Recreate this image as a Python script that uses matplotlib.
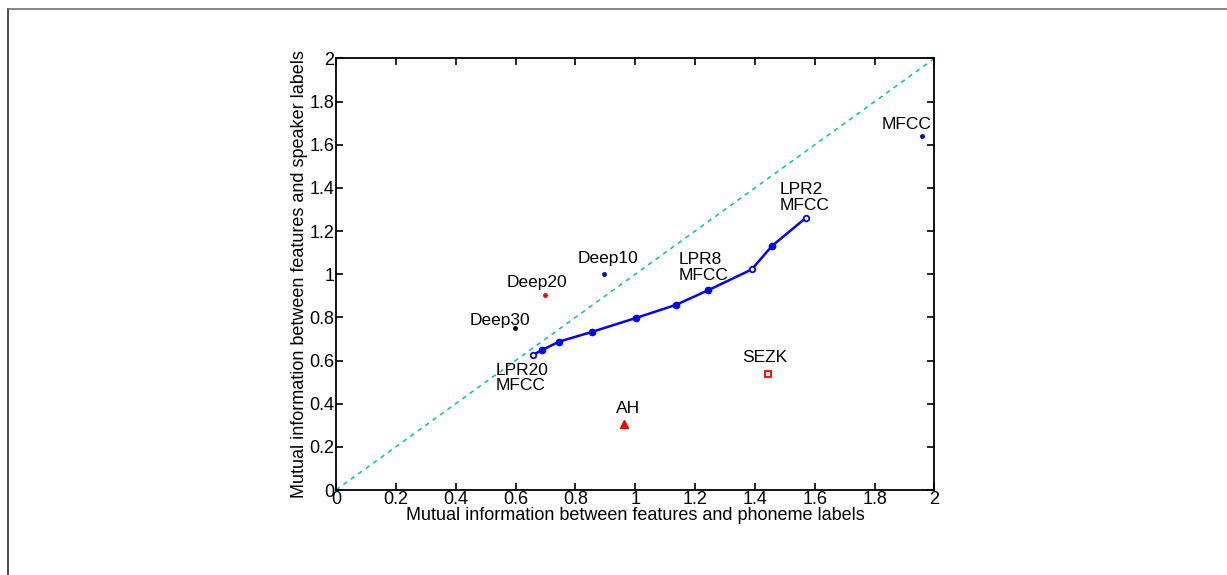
import numpy as np
import matplotlib
matplotlib.use('Agg')
import matplotlib.pyplot as plt
from matplotlib.lines import Line2D

plt.rcParams['font.family'] = ['Liberation Sans', 'DejaVu Sans']

# LPR + MFCC curve
lpr_x = [0.657, 0.688, 0.744, 0.856, 1.004, 1.136, 1.244, 1.389, 1.457, 1.571]
lpr_y = [0.625, 0.648, 0.687, 0.733, 0.798, 0.858, 0.926, 1.022, 1.131, 1.262]
lpr_hollow = [0, 7, 9]  # LPR20, LPR8, LPR2

# single feature sets
deep_names = ['Deep10', 'Deep20', 'Deep30']
deep_x = [0.897, 0.697, 0.598]
deep_y = [1.003, 0.903, 0.753]
deep_colors = ['blue', 'red', 'black']

mfcc_x, mfcc_y = 1.958, 1.640
sezk_x, sezk_y = 1.444, 0.536
ah_x, ah_y = 0.961, 0.304

ticks = [0, 0.2, 0.4, 0.6, 0.8, 1, 1.2, 1.4, 1.6, 1.8, 2]
tick_labels = ['0', '0.2', '0.4', '0.6', '0.8', '1', '1.2', '1.4', '1.6', '1.8', '2']

fig = plt.figure(figsize=(12.27, 5.75), dpi=100)
ax = fig.add_axes([0.2738, 0.1478, 0.7616 - 0.2738, 0.8983 - 0.1478])

# diagonal reference
ax.plot([0, 2], [0, 2], '--', color='#00BFBF', lw=1.1, dashes=(3, 3))

ax.plot(lpr_x, lpr_y, '-', color='blue', lw=1.8)
filled = [i for i in range(len(lpr_x)) if i not in lpr_hollow]
ax.plot([lpr_x[i] for i in filled], [lpr_y[i] for i in filled], 'o',
        color='blue', ms=4.5, ls='none')
ax.plot([lpr_x[i] for i in lpr_hollow], [lpr_y[i] for i in lpr_hollow], 'o',
        mfc='white', mec='blue', mew=1.3, ms=4, ls='none')

for x, y, c in zip(deep_x, deep_y, deep_colors):
    ax.plot(x, y, '.', color=c, ms=5)
ax.plot(mfcc_x, mfcc_y, '.', color='blue', ms=5)
ax.plot(sezk_x, sezk_y, 's', mfc='white', mec='red', mew=1.3, ms=4)
ax.plot(ah_x, ah_y, '^', color='red', ms=6)

fs = 12.5
ax.text(1.908, 1.694, 'MFCC', ha='center', va='center', fontsize=fs)
ax.text(1.482, 1.356, 'LPR2\nMFCC', ha='left', va='center', fontsize=fs, linespacing=1.05)
ax.text(1.145, 1.032, 'LPR8\nMFCC', ha='left', va='center', fontsize=fs, linespacing=1.05)
ax.text(0.534, 0.519, 'LPR20\nMFCC', ha='left', va='center', fontsize=fs, linespacing=1.05)
ax.text(0.808, 1.073, 'Deep10', ha='left', va='center', fontsize=fs)
ax.text(0.570, 0.963, 'Deep20', ha='left', va='center', fontsize=fs)
ax.text(0.448, 0.787, 'Deep30', ha='left', va='center', fontsize=fs)
ax.text(1.359, 0.613, 'SEZK', ha='left', va='center', fontsize=fs)
ax.text(0.935, 0.379, 'AH', ha='left', va='center', fontsize=fs)

ax.set_xlim(0, 2)
ax.set_ylim(0, 2)
ax.set_xticks(ticks)
ax.set_xticklabels(tick_labels)
ax.set_yticks(ticks)
ax.set_yticklabels(tick_labels)
ax.tick_params(direction='in', length=5, width=1.2, top=True, right=True,
               labelsize=13, pad=1)
for s in ax.spines.values():
    s.set_linewidth(1.3)

ax.set_xlabel('Mutual information between features and phoneme labels', fontsize=13, labelpad=-1)
ax.set_ylabel('Mutual information between features and speaker labels', fontsize=13, labelpad=1)

# partial outer frame (top and left)
fig.add_artist(Line2D([8 / 1227, 8 / 1227], [0, 1 - 9 / 575], transform=fig.transFigure,
                      color='#303030', lw=1.2))
fig.add_artist(Line2D([8 / 1227, 1], [1 - 9 / 575, 1 - 9 / 575], transform=fig.transFigure,
                      color='#707070', lw=1.2))

fig.savefig('out.png', dpi=100)
